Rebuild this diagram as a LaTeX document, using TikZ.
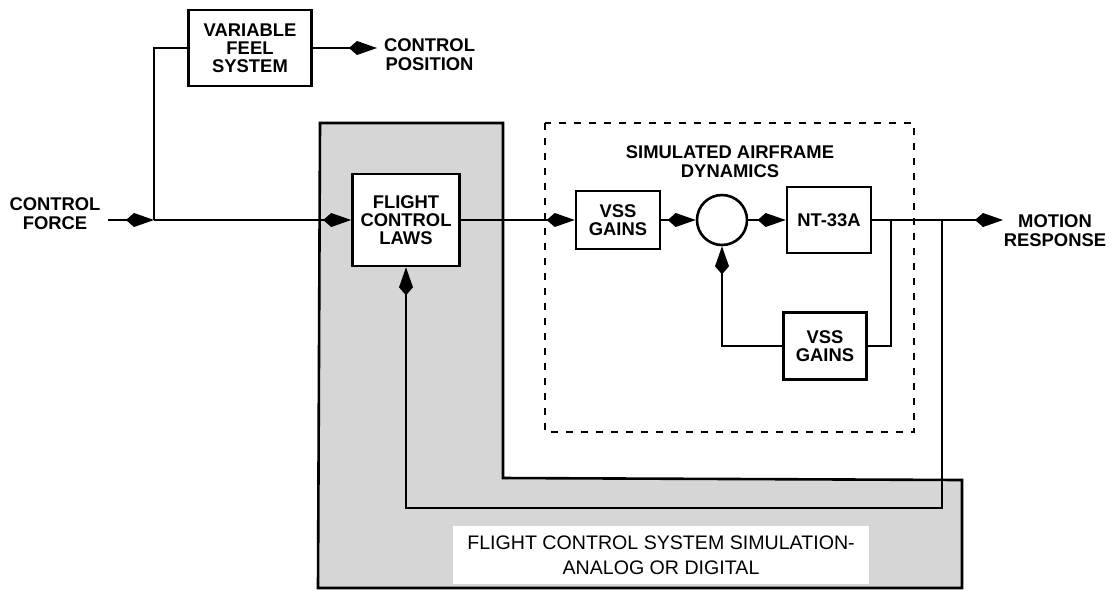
\documentclass[tikz,border=0pt]{standalone}
\usepackage{fontspec}
\setmainfont{Liberation Sans}
\usetikzlibrary{arrows.meta}

\begin{document}
\begin{tikzpicture}[>={Kite[length=14pt,width=7pt,inset=4pt]}, x=0.5pt, y=-0.5pt,
	blk/.style={draw, line width=1.3pt, fill=white, align=center, inner sep=0pt, font=\bfseries\fontsize{9.2}{9}\selectfont},
	lbl/.style={align=center, font=\bfseries\fontsize{9.2}{9.5}\selectfont},
	sig/.style={line width=0.75pt}]
	\useasboundingbox (0,0) rectangle (1112,596);
	% simulation area
	\draw[line width=1.3pt, fill=gray!32] (320,123) -- (503,123) -- (503,478) -- (962,480) -- (962,588) -- (318,588) -- cycle;
	\node[fill=white, minimum width=208pt, minimum height=29pt, align=center, font=\fontsize{9.8}{12.5}\selectfont] (fcs) at (661,555) {FLIGHT CONTROL SYSTEM SIMULATION-\\ANALOG OR DIGITAL};
	\draw[line width=1.4pt, dash pattern=on 3.5pt off 4pt] (545,123) rectangle (914,432);
	\node[lbl] (sad) at (730,162) {SIMULATED AIRFRAME\\DYNAMICS};
	% blocks
	\node[lbl] (force) at (55,214) {CONTROL\\FORCE};
	\coordinate (j1) at (154,220);
	\node[blk, minimum width=61.5pt, minimum height=38pt] (vfs) at (250,48) {VARIABLE\\FEEL\\SYSTEM};
	\node[lbl, anchor=west] (pos) at (377,55) {CONTROL\\POSITION};
	\node[blk, minimum width=53.5pt, minimum height=46pt] (fcl) at (406,220) {FLIGHT\\CONTROL\\LAWS};
	\node[blk, minimum width=42pt, minimum height=29pt] (vss1) at (618,220) {VSS\\GAINS};
	\node[draw, circle, line width=1.3pt, minimum size=25pt, inner sep=0pt] (sum) at (722,220) {};
	\node[blk, minimum width=42pt, minimum height=33pt] (nt) at (829,220) {NT-33A};
	\node[blk, minimum width=41.5pt, minimum height=33.5pt] (vss2) at (825,346) {VSS\\GAINS};
	\node[lbl] (resp) at (1055,231) {MOTION\\RESPONSE};
	\coordinate (tip) at (1003,220);
	\coordinate (b1) at (891,220);
	\coordinate (b2) at (942,220);
	\coordinate (fb) at (942,508);
	% signals
	\draw[sig, ->] (force.east |- j1) -- (j1);
	\draw[sig] (j1) |- (vfs.west);
	\draw[sig, ->] (vfs.east) -- (pos.west |- vfs.east);
	\draw[sig, ->] (j1) -- (fcl.west);
	\draw[sig, ->] (fcl.east) -- (vss1.west);
	\draw[sig, ->] (vss1.east) -- (sum.west);
	\draw[sig, ->] (sum.east) -- (nt.west);
	\draw[sig, ->] (nt.east) -- (tip);
	\draw[sig] (b1) |- (vss2.east);
	\draw[sig, ->] (vss2.west) -| (sum.south);
	\draw[sig, ->] (b2) -- (fb) -| (fcl.south);
\end{tikzpicture}
\end{document}
